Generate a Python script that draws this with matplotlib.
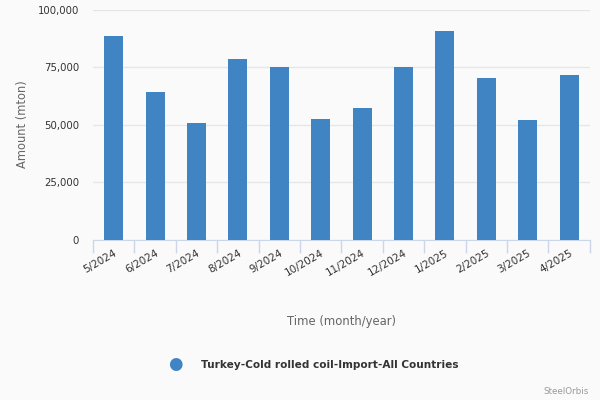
import numpy as np
import matplotlib.pyplot as plt

# data
months = ["5/2024", "6/2024", "7/2024", "8/2024", "9/2024", "10/2024",
          "11/2024", "12/2024", "1/2025", "2/2025", "3/2025", "4/2025"]
amount = [88600, 64250, 50650, 78500, 75000, 52400,
          57200, 75100, 90650, 70200, 51950, 71500]
series_name = "Turkey-Cold rolled coil-Import-All Countries"

bar_color = "#4184c3"
bg = "#fafafa"

fig = plt.figure(figsize=(6, 4), dpi=100, facecolor=bg)
ax = fig.add_axes([0.155, 0.401, 0.828, 0.575], facecolor=bg)

x = np.arange(len(months))
ax.bar(x, amount, width=0.46, color=bar_color, zorder=3)

ax.set_xlim(-0.5, len(months) - 0.5)
ax.set_ylim(0, 100000)
yt = [0, 25000, 50000, 75000, 100000]
ax.set_yticks(yt)
ax.set_yticklabels(["{:,}".format(v) for v in yt], fontsize=7.3, color="#333333")
ax.yaxis.grid(True, color="#e6e6e6", linewidth=1, zorder=0)
ax.tick_params(axis="y", length=0, pad=10)

# category labels at centres, tick marks at boundaries
ax.set_xticks(x)
ax.set_xticklabels(months, rotation=30, ha="right", rotation_mode="anchor",
                   fontsize=7.5, color="#333333")
ax.tick_params(axis="x", which="major", length=0, pad=6)
ax.set_xticks(np.arange(-0.5, len(months)), minor=True)
ax.tick_params(axis="x", which="minor", length=9, color="#ccd6eb", width=1)

for s in ["top", "right", "left"]:
    ax.spines[s].set_visible(False)
ax.spines["bottom"].set_color("#ccd6eb")

ax.set_ylabel("Amount (mton)", fontsize=8.3, color="#666666", labelpad=0)
ax.yaxis.set_label_coords(-0.128, 0.5)
fig.text(0.57, 0.195, "Time (month/year)", fontsize=8.4, color="#666666",
         ha="center", va="center")

# legend
fig.text(0.293, 0.09, "\u25CF", fontsize=12, color=bar_color, ha="center", va="center")
fig.text(0.335, 0.0875, series_name, fontsize=7.6, fontweight="bold",
         color="#333333", ha="left", va="center")
fig.text(0.982, 0.02, "SteelOrbis", fontsize=6.3, color="#999999",
         ha="right", va="center")

fig.savefig("out.png", dpi=100, facecolor=bg)
